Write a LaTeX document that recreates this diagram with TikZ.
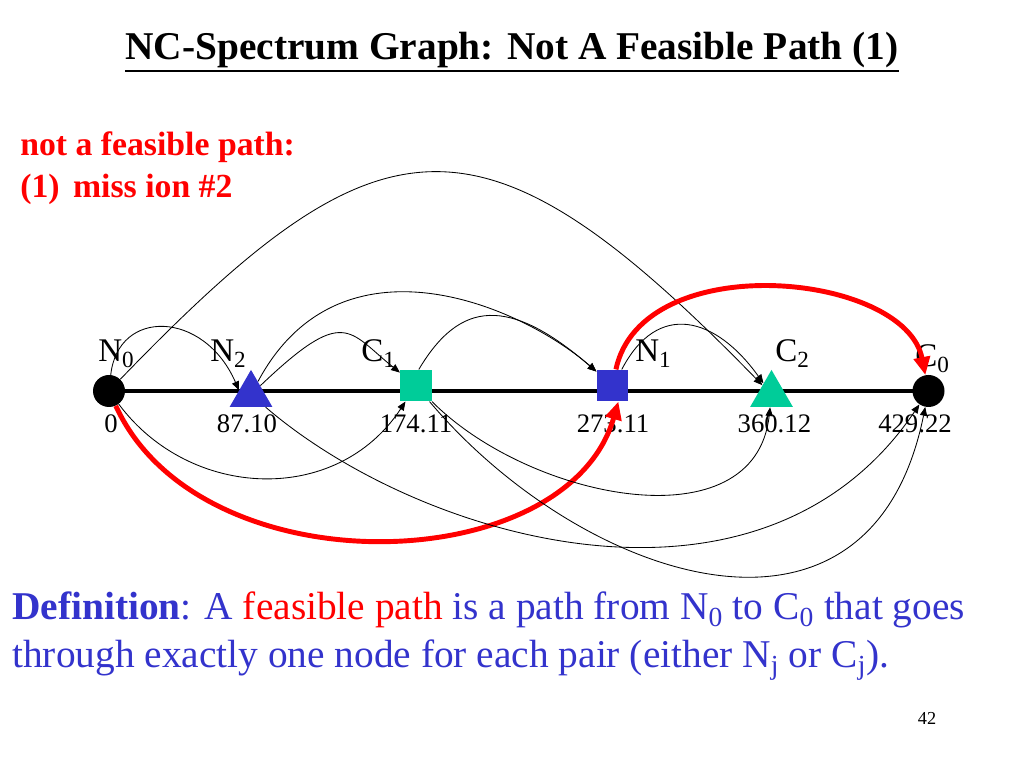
\documentclass[tikz,border=0pt]{standalone}
\usepackage{fontspec}
\setmainfont{Liberation Serif}
\usetikzlibrary{arrows.meta,shapes.geometric,backgrounds}
\definecolor{ionblue}{RGB}{51,51,204}
\definecolor{iongreen}{RGB}{0,204,153}
\definecolor{pathred}{RGB}{255,0,0}
\tikzset{
	link/.style={line width=0.6pt,-{Triangle[length=2.2mm,width=1.8mm]}},
	redlink/.style={pathred,line width=3.5pt,-{Triangle[length=4.5mm,width=4mm]}},
	endpt/.style={circle,fill=black,inner sep=0pt,minimum size=0.8cm},
	sq/.style={rectangle,inner sep=0pt,minimum size=0.79cm},
	tri/.style={regular polygon,regular polygon sides=3,inner sep=0pt,minimum size=1.235cm},
	namelab/.style={anchor=base west,inner sep=0pt,font=\fontsize{23.5}{28}\selectfont},
	numlab/.style={anchor=base,inner sep=0pt,font=\fontsize{19}{23}\selectfont},
}
\begin{document}
\begin{tikzpicture}
	\useasboundingbox (0,0) rectangle (25.6,19.2);
	% title and note
	\node[anchor=base,inner sep=0pt,font=\fontsize{28}{34}\selectfont\bfseries] (title) at (12.8,17.7) {NC-Spectrum Graph: Not A Feasible Path (1)};
	\draw[line width=1.4pt] ([yshift=-8pt]title.base west) -- ([yshift=-8pt]title.base east);
	\node[anchor=base west,inner sep=0pt,pathred,font=\fontsize{24}{29}\selectfont\bfseries] (note1) at (0.5,15.3) {not a feasible path:};
	\node[anchor=base west,inner sep=0pt,pathred,font=\fontsize{24}{29}\selectfont\bfseries] (note2) at (0.5,14.25) {(1)\hspace{0.4em}miss ion \#2};
	% the spectrum nodes
	\node[endpt] (n0) at (2.725,9.425) {};
	\node[tri,fill=ionblue] (n2) at (6.275,9.335) {};
	\node[sq,fill=iongreen] (c1) at (10.4,9.5625) {};
	\node[sq,fill=ionblue] (n1) at (15.3125,9.5625) {};
	\node[tri,fill=iongreen] (c2) at (19.2875,9.335) {};
	\node[endpt] (c0) at (23.2125,9.425) {};
	\begin{scope}[on background layer]
		\draw[line width=3.5pt] (n0.center) -- (c0.center);
	\end{scope}
	% names and masses
	\node[namelab] (ln0) at (2.45,10.15) {N\textsubscript{0}};
	\node[namelab] (ln2) at (5.25,10.15) {N\textsubscript{2}};
	\node[namelab] (lc1) at (9.025,10.15) {C\textsubscript{1}};
	\node[namelab] (ln1) at (15.875,10.15) {N\textsubscript{1}};
	\node[namelab] (lc2) at (19.375,10.15) {C\textsubscript{2}};
	\node[namelab] (lc0) at (22.875,10.025) {C\textsubscript{0}};
	\node[numlab] (m0) at (2.775,8.375) {0};
	\node[numlab] (m2) at (6.175,8.375) {87.10};
	\node[numlab] (m3) at (10.4,8.375) {174.11};
	\node[numlab] (m4) at (15.325,8.375) {273.11};
	\node[numlab] (m5) at (19.36,8.375) {360.12};
	\node[numlab] (m6) at (22.875,8.375) {429.22};
	% edges above
	\draw[link] (n0) .. controls (2.95,11.5) and (5.1,11.45) .. (n2.160);
	\draw[link] (n0) .. controls (9.5,16.45) and (12.0,16.825) .. (c2);
	\draw[link] (n2) .. controls (8.625,11.575) and (8.7,10.925) .. (c1);
	\draw[link] (n2) .. controls (8.5,13.5) and (13.0,11.575) .. (n1);
	\draw[link] (c1.80) .. controls (11.5,11.7) and (12.725,11.8) .. (n1);
	\draw[link] (n1.60) .. controls (16.45,11.7) and (17.9,11.275) .. (c2);
	\draw[redlink] (n1) .. controls (16.05,13.025) and (22.625,12.4) .. (c0);
	% edges below
	\draw[redlink] (n0) .. controls (5.0,4.45) and (14.175,4.7) .. (n1.-70);
	\draw[link] (n0) .. controls (4.75,6.7) and (8.425,6.55) .. (c1);
	\draw[link] (n2) .. controls (10.5,5.7) and (19.0,3.2) .. (c0);
	\draw[link] (c1) .. controls (13.25,6.7) and (18.875,5.575) .. (c2);
	\draw[link] (c1) .. controls (14.5,4.7) and (21.75,2.2) .. (c0);
	% definition
	\node[anchor=base west,inner sep=0pt,ionblue,font=\fontsize{28}{34}\selectfont] (def1) at (0.3,3.7) {\textbf{Definition}: A \textcolor{pathred}{feasible path} is a path from N\textsubscript{0} to C\textsubscript{0} that goes};
	\node[anchor=base west,inner sep=0pt,ionblue,font=\fontsize{28}{34}\selectfont] (def2) at (0.3,2.5) {through exactly one node for each pair (either N\textsubscript{j} or C\textsubscript{j}).};
	\node[anchor=base,inner sep=0pt,font=\fontsize{13}{16}\selectfont] (page) at (23.175,1.075) {42};
\end{tikzpicture}
\end{document}
